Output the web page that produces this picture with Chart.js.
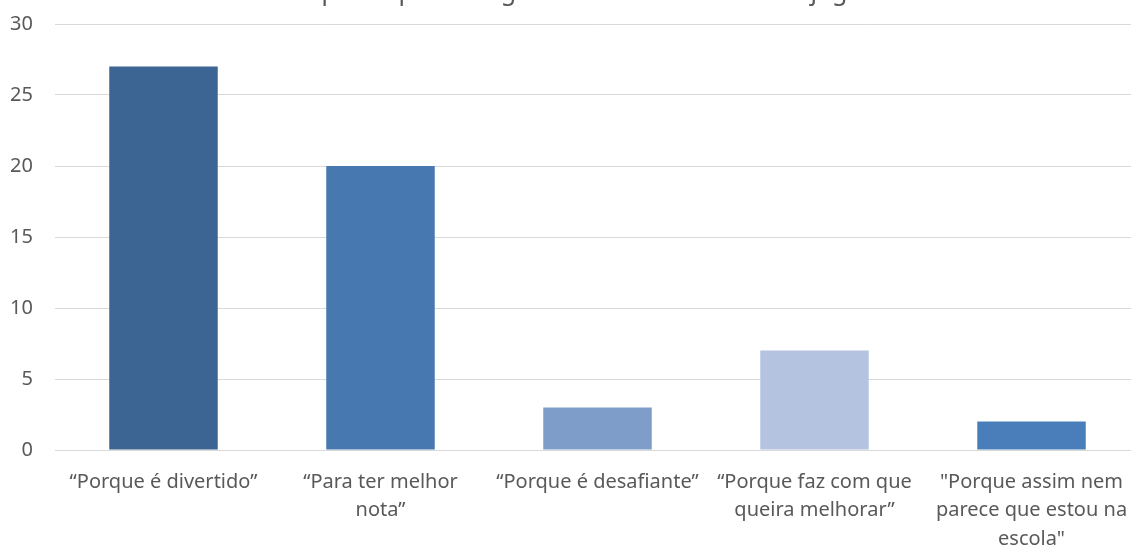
<!DOCTYPE html>
<html>
<head>
<meta charset="utf-8">
<script src="https://cdn.jsdelivr.net/npm/chart.js@4"></script>
<style>
  html, body { margin: 0; padding: 0; background: #fff; }
  #wrap { position: relative; width: 1131px; height: 549px; overflow: hidden; }
  #box { position: absolute; left: 0; top: -22px; width: 1140px; height: 571px; }
</style>
</head>
<body>
<div id="wrap"><div id="box"><canvas id="motivos"></canvas></div></div>
<script>
var xValues = [
  ["\u201cPorque \u00e9 divertido\u201d"],
  ["\u201cPara ter melhor", "nota\u201d"],
  ["\u201cPorque \u00e9 desafiante\u201d"],
  ["\u201cPorque faz com que", "queira melhorar\u201d"],
  ["\"Porque assim nem", "parece que estou na", "escola\""]
];
var yValues = [27, 20, 3, 7, 2];
var barColors = ["#3c6594", "#4878b0", "#7f9dc9", "#b4c4e0", "#4a7ebb"];
var yTicks = [0, 5, 10, 15, 20, 25, 30];

new Chart("motivos", {
  type: "bar",
  data: {
    labels: xValues,
    datasets: [{
      backgroundColor: barColors,
      data: yValues,
      barPercentage: 0.5,
      categoryPercentage: 1
    }]
  },
  options: {
    responsive: true,
    maintainAspectRatio: false,
    animation: false,
    layout: { padding: 0 },
    plugins: {
      legend: { display: false },
      tooltip: { enabled: false },
      title: {
        display: true,
        text: "Por que a aprendizagem \u00e9 mais divertida com jogos",
        color: "#595959",
        font: { family: "Noto Sans", size: 25, weight: "normal" },
        padding: { top: 0, bottom: 16 }
      }
    },
    scales: {
      y: {
        min: 0,
        max: 30,
        afterBuildTicks: function (axis) {
          axis.ticks = yTicks.map(function (v) { return { value: v }; });
        },
        afterFit: function (axis) { axis.width = 55; },
        grid: { color: "#d9d9d9", drawTicks: false },
        border: { display: false },
        ticks: { color: "#595959", padding: 22, font: { family: "Noto Sans", size: 20 } }
      },
      x: {
        afterFit: function (axis) { axis.height = 99; },
        grid: { display: false },
        border: { color: "#d9d9d9", width: 1 },
        ticks: {
          color: "#595959",
          padding: 10,
          maxRotation: 0,
          autoSkip: false,
          font: { family: "Noto Sans", size: 20, lineHeight: 1.42 }
        }
      }
    }
  }
});
</script>
</body>
</html>
